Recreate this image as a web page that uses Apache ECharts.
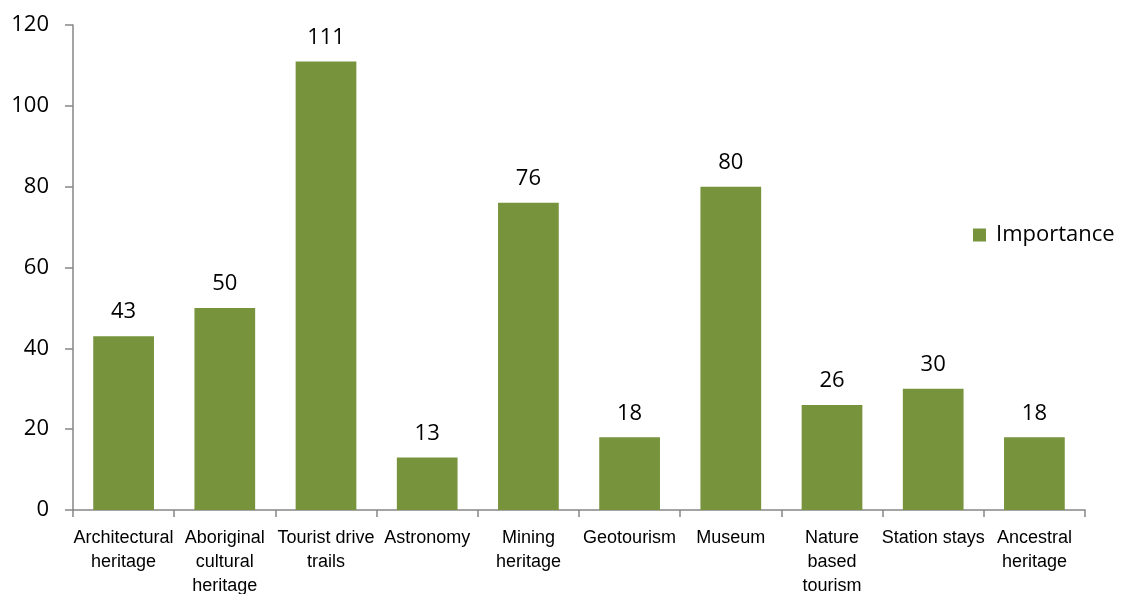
<!DOCTYPE html>
<html>
<head>
<meta charset="utf-8">
<script src="https://cdn.jsdelivr.net/npm/echarts@6/dist/echarts.min.js"></script>
<style>
  html, body { margin: 0; padding: 0; background: #fff; }
  #main { width: 1122px; height: 594px; }
</style>
</head>
<body>
<div id="main"></div>
<script>
// chart data
const categories = [
  'Architectural\nheritage',
  'Aboriginal\ncultural\nheritage',
  'Tourist drive\ntrails',
  'Astronomy',
  'Mining\nheritage',
  'Geotourism',
  'Museum',
  'Nature\nbased\ntourism',
  'Station stays',
  'Ancestral\nheritage'
]
const importance = [43, 50, 111, 13, 76, 18, 80, 26, 30, 18]
const yTicks = [0, 20, 40, 60, 80, 100, 120]

const myChart = echarts.init(document.getElementById('main'))

const option = {
  animation: false,
  grid: {
    left: 73,
    right: 37,
    top: 25,
    bottom: 84,
    outerBoundsMode: 'none'
  },
  legend: {
    data: ['Importance'],
    orient: 'vertical',
    left: 973,
    top: 224,
    padding: 0,
    icon: 'rect',
    itemWidth: 13,
    itemHeight: 13,
    textStyle: {
      fontFamily: '"Open Sans", sans-serif',
      fontSize: 22,
      color: '#000',
      padding: [0, 0, 0, 5]
    }
  },
  xAxis: {
    type: 'category',
    data: categories,
    axisLine: { lineStyle: { color: '#868686', width: 1.5 } },
    axisTick: { show: true, length: 7, lineStyle: { color: '#868686', width: 1.5 } },
    axisLabel: {
      interval: 0,
      margin: 16,
      fontFamily: '"Liberation Sans Narrow", "Arial Narrow", sans-serif',
      fontSize: 18,
      lineHeight: 24,
      color: '#000'
    }
  },
  yAxis: {
    type: 'value',
    min: yTicks[0],
    max: yTicks[yTicks.length - 1],
    interval: 20,
    axisLine: { show: true, lineStyle: { color: '#868686', width: 1.5 } },
    axisTick: { show: true, length: 8, lineStyle: { color: '#868686', width: 1.5 } },
    splitLine: { show: false },
    axisLabel: {
      margin: 24,
      fontFamily: '"Open Sans", sans-serif',
      fontSize: 22,
      color: '#000'
    }
  },
  series: [
    {
      name: 'Importance',
      type: 'bar',
      data: importance,
      barWidth: '60%',
      itemStyle: { color: '#77933c' },
      label: {
        show: true,
        position: 'top',
        distance: 13,
        fontFamily: '"Open Sans", sans-serif',
        fontSize: 22,
        color: '#000'
      }
    }
  ]
}

myChart.setOption(option)

window.addEventListener('resize', () => {
  myChart.resize()
})
</script>
</body>
</html>
